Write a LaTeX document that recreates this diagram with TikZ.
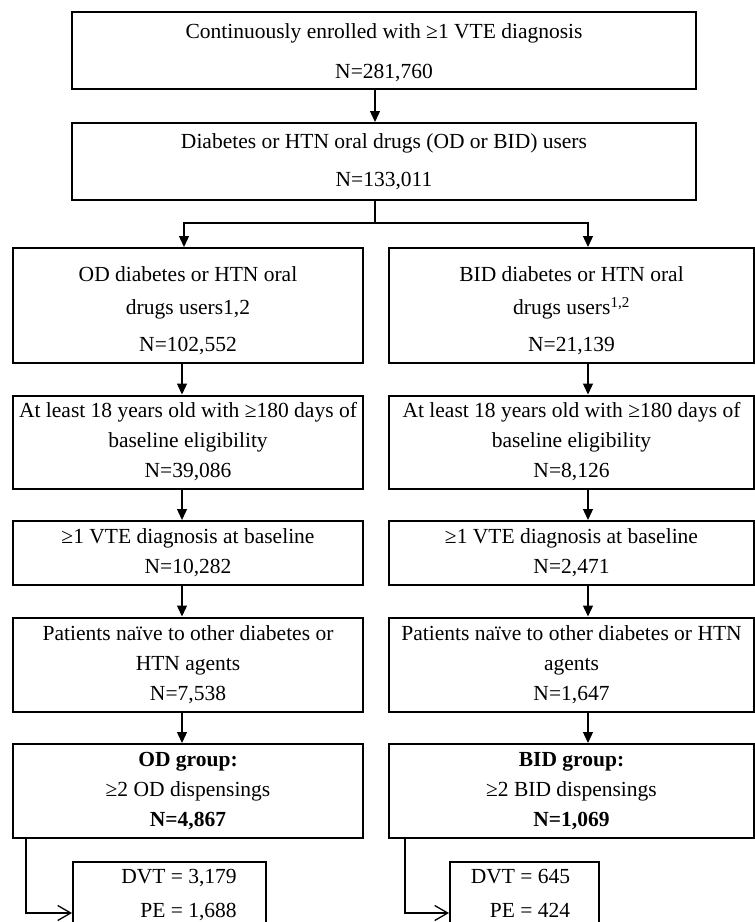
\documentclass[tikz,border=0pt]{standalone}
\usepackage{fontspec}
\setmainfont{Liberation Serif}
\usetikzlibrary{arrows.meta, positioning}

\begin{document}
\begin{tikzpicture}[
    x=1pt, y=-1pt,
    node distance=30.5pt and 26pt,
    stage/.style={rectangle, draw, line width=2pt, align=center, inner sep=0pt, font=\fontsize{21.5}{30}\selectfont},
    wide/.style={stage, minimum width=624pt, minimum height=77pt},
    leftcol/.style={stage, minimum width=350pt},
    rightcol/.style={stage, minimum width=365pt},
    tally/.style={rectangle, draw, line width=2pt, inner sep=0pt, minimum height=65pt, font=\fontsize{21.5}{30}\selectfont},
    arrow/.style={-{Triangle[length=11pt, width=10pt]}, line width=1.3pt},
    wire/.style={line width=1.3pt},
    feed/.style={-{Straight Barb[length=13pt, width=15pt]}, line width=1.3pt},
]
    \useasboundingbox (0,0) rectangle (755,922);

    \node[wide] (enrolled) at (384,50.5) {\rule{0pt}{20pt}Continuously enrolled with ≥1 VTE diagnosis\\[10pt]N=281,760};
    \node[wide, below=32pt of enrolled] (users) {Diabetes or HTN oral drugs (OD or BID) users\\[8pt]N=133,011};

    % OD column
    \node[leftcol, minimum height=115pt, anchor=north] (odusers) at (188,247) {\rule{0pt}{26pt}OD diabetes or HTN oral\\[3pt]drugs users1,2\\[7pt]N=102,552};
    \node[leftcol, minimum height=93pt, below=of odusers] (odage) {At least 18 years old with ≥180 days of\\baseline eligibility\\N=39,086};
    \node[leftcol, minimum height=64pt, below=of odage] (odvte) {≥1 VTE diagnosis at baseline\\N=10,282};
    \node[leftcol, minimum height=94pt, below=of odvte] (odnaive) {Patients naïve to other diabetes or\\HTN agents\\N=7,538};
    \node[leftcol, minimum height=94pt, below=of odnaive] (odgroup) {\textbf{OD group:}\\≥2 OD dispensings\\\textbf{N=4,867}};

    % BID column
    \node[rightcol, minimum height=115pt, anchor=north] (bidusers) at (571.5,247) {\rule{0pt}{26pt}BID diabetes or HTN oral\\[3pt]drugs users\textsuperscript{1,2}\\[7pt]N=21,139};
    \node[rightcol, minimum height=93pt, below=of bidusers] (bidage) {At least 18 years old with ≥180 days of\\baseline eligibility\\N=8,126};
    \node[rightcol, minimum height=64pt, below=of bidage] (bidvte) {≥1 VTE diagnosis at baseline\\N=2,471};
    \node[rightcol, minimum height=94pt, below=of bidvte] (bidnaive) {Patients naïve to other diabetes or HTN\\agents\\N=1,647};
    \node[rightcol, minimum height=94pt, below=of bidnaive] (bidgroup) {\textbf{BID group:}\\≥2 BID dispensings\\\textbf{N=1,069}};

    % outcome split
    \node[tally, minimum width=193pt, anchor=north west] (oddvt) at (72,861) {\hspace*{19pt}\begin{tabular}{@{}r@{}}DVT = 3,179\\[4pt]PE = 1,688\end{tabular}};
    \node[tally, minimum width=149pt, anchor=north west] (biddvt) at (449,861) {\begin{tabular}{@{}r@{}}DVT = 645\\[4pt]PE = 424\end{tabular}\hspace*{8pt}};

    \draw[arrow] ([xshift=-9pt]enrolled.south) -- ([xshift=-9pt]users.north);
    \coordinate (split) at (375,223);
    \draw[wire] ([xshift=-9pt]users.south) -- (split);
    \draw[arrow] (split) -| ([xshift=-4pt]odusers.north);
    \draw[arrow] (split) -| ([xshift=16.5pt]bidusers.north);

    \foreach \a/\b in {odusers/odage, odage/odvte, odvte/odnaive, odnaive/odgroup}
        \draw[arrow] ([xshift=-6pt]\a.south) -- ([xshift=-6pt]\b.north);
    \foreach \a/\b in {bidusers/bidage, bidage/bidvte, bidvte/bidnaive, bidnaive/bidgroup}
        \draw[arrow] ([xshift=16.5pt]\a.south) -- ([xshift=16.5pt]\b.north);

    \draw[feed] ([xshift=14pt]odgroup.south west) |- ([yshift=-18.5pt]oddvt.west);
    \draw[feed] ([xshift=17pt]bidgroup.south west) |- ([yshift=-18.5pt]biddvt.west);
\end{tikzpicture}
\end{document}
